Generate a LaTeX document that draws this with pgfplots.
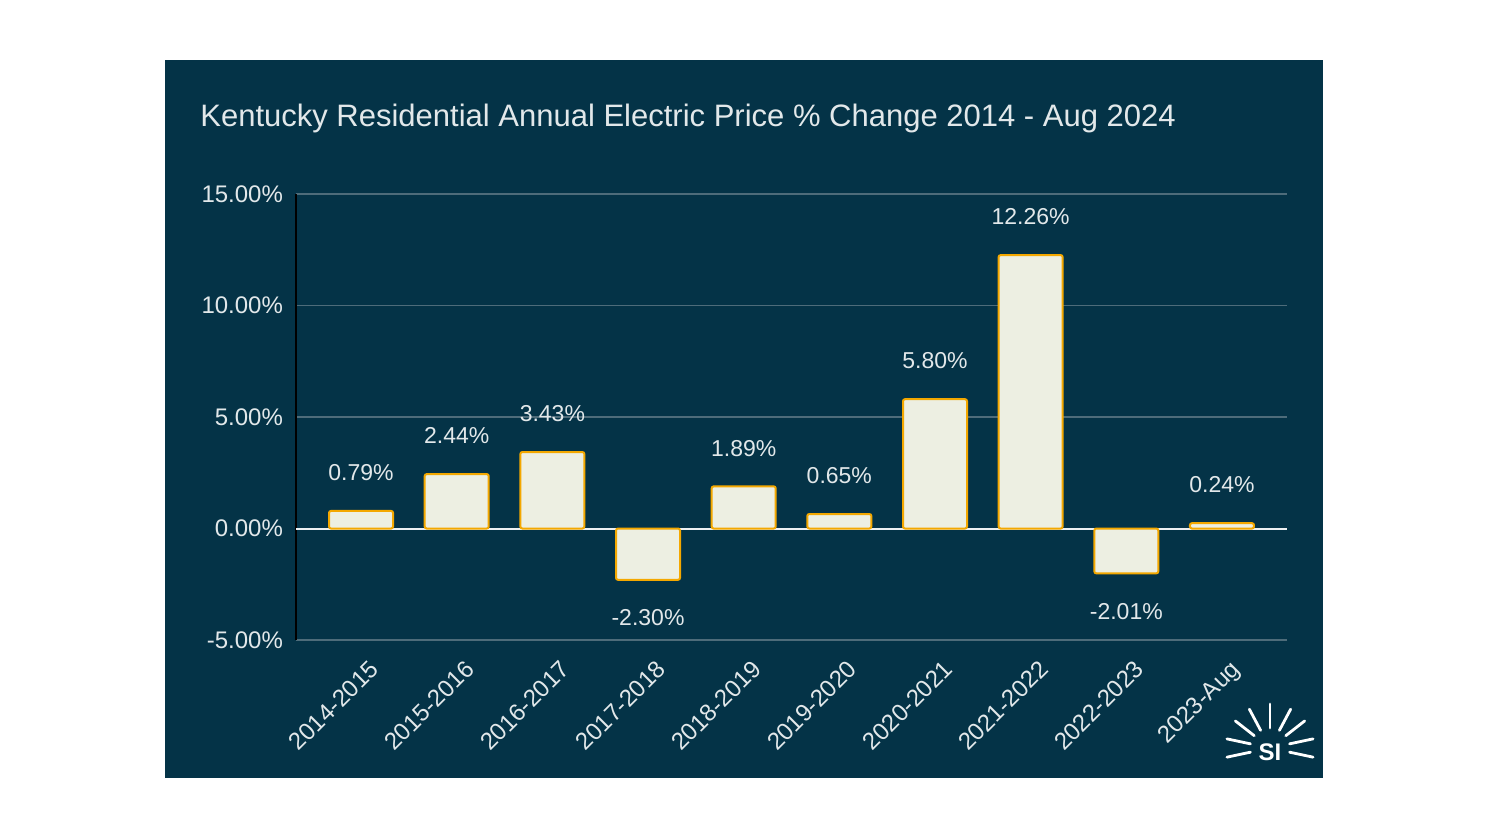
\documentclass[border=0pt]{standalone}
\usepackage{pgfplots}
\pgfplotsset{compat=1.18}
\usepackage{fontspec}
\setmainfont{Liberation Sans}
\definecolor{panel}{RGB}{4,51,71}
\definecolor{txt}{RGB}{226,232,234}
\definecolor{barfill}{RGB}{237,239,226}
\definecolor{barline}{RGB}{244,168,0}
\definecolor{gridc}{RGB}{78,108,122}
\begin{document}
\begin{tikzpicture}
\fill[white] (0,0) rectangle (744pt,-418.5pt);
\fill[panel] (82.5pt,-30pt) rectangle (661.5pt,-389pt);
\node[anchor=base west,text=txt,font=\fontsize{15.5}{18}\selectfont,inner sep=0pt] at (100pt,-63pt) {Kentucky Residential Annual Electric Price \% Change 2014 - Aug 2024};
\begin{axis}[
  at={(148pt,-320pt)}, anchor=south west,
  scale only axis, width=495.5pt, height=223pt,
  xmin=-0.68, xmax=9.68, ymin=-5, ymax=15,
  ytick={-5,0,5,10,15},
  xtick={0,...,9},
  xticklabels={2014-2015,2015-2016,2016-2017,2017-2018,2018-2019,2019-2020,2020-2021,2021-2022,2022-2023,2023-Aug},
  x tick label style={rotate=45,anchor=north east,text=txt,font=\fontsize{12}{14}\selectfont,inner sep=2pt,xshift=-2pt,yshift=-7pt},
  y tick label style={text=txt,font=\fontsize{12}{14}\selectfont,xshift=-3pt},
  yticklabel={\pgfmathprintnumber[fixed,fixed zerofill,precision=2]{\tick}\%},
  /pgf/number format/assume math mode=true,
  major tick length=0pt,
  axis x line*=bottom, x axis line style={draw=none},
  axis y line*=left, y axis line style={black,line width=0.8pt,-},
  ymajorgrids, grid style={gridc,line width=0.8pt},
  extra y ticks={0}, extra y tick labels={},
  extra y tick style={grid style={white!90!gridc,line width=1pt}},
  ybar, bar width=32pt,
  nodes near coords={\pgfmathprintnumber[fixed,fixed zerofill,precision=2]{\pgfplotspointmeta}\%},
  every node near coord/.append style={text=txt,font=\fontsize{11.5}{13}\selectfont,inner ysep=14.5pt},
  clip=false,
]
\addplot[fill=barfill,draw=barline,line width=1pt,rounded corners=1pt,bar shift=0pt]
coordinates {(0,0.79) (1,2.44) (2,3.43) (3,-2.30) (4,1.89) (5,0.65) (6,5.80) (7,12.26) (8,-2.01) (9,0.24)};
\end{axis}
% logo
\begin{scope}[shift={(635pt,-374pt)},white,line width=1.4pt,line cap=round]
\foreach \a in {-12,12,38,62,90,118,142,168,192}{
  \draw (\a:10pt) -- (\a:22pt);
}
\node[font=\bfseries\fontsize{12}{13}\selectfont,text=white,inner sep=0pt] at (0,-2pt) {SI};
\end{scope}
\end{tikzpicture}
\end{document}
